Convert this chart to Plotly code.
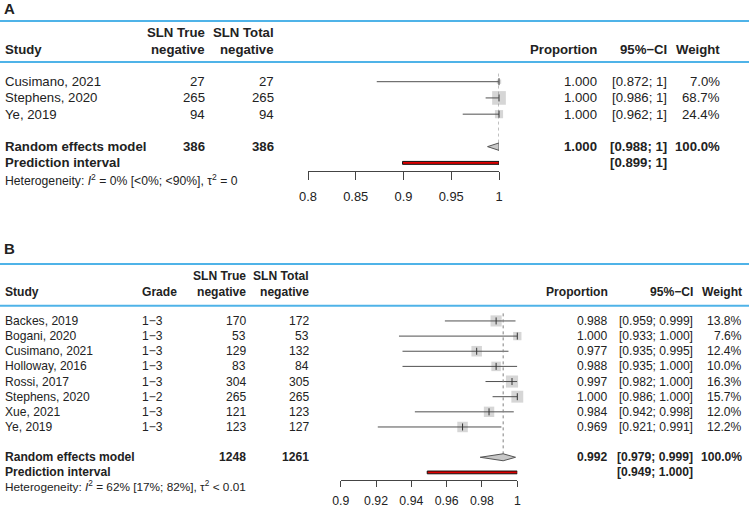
import numpy as np
import plotly.graph_objects as go

W, H = 749, 508
FONT = "Liberation Sans, Arial, sans-serif"
TXT = "#222222"
BLUE = "#4fb3e8"
BOXC = "#c4c4c4"
LINEC = "#505050"

# ---------------- Panel A data ----------------
studies_A = ["Cusimano, 2021", "Stephens, 2020", "Ye, 2019"]
tn_A = [27, 265, 94]
total_A = [27, 265, 94]
prop_A = [1.000, 1.000, 1.000]
lo_A = [0.872, 0.986, 0.962]
hi_A = [1.0, 1.0, 1.0]
w_A = [7.0, 68.7, 24.4]
re_A = {"tn": 386, "total": 386, "est": 1.000, "lo": 0.988, "hi": 1.0, "w": 100.0,
        "pi_lo": 0.899, "pi_hi": 1.0}
het_A = "Heterogeneity: <i>I</i><sup>2</sup> = 0% [&lt;0%; &lt;90%], τ<sup>2</sup> = 0"
ticks_A = [0.8, 0.85, 0.9, 0.95, 1.0]
ticklab_A = ["0.8", "0.85", "0.9", "0.95", "1"]

# ---------------- Panel B data ----------------
studies_B = ["Backes, 2019", "Bogani, 2020", "Cusimano, 2021", "Holloway, 2016",
             "Rossi, 2017", "Stephens, 2020", "Xue, 2021", "Ye, 2019"]
grade_B = ["1−3", "1−3", "1−3", "1−3", "1−3", "1−2", "1−3", "1−3"]
tn_B = [170, 53, 129, 83, 304, 265, 121, 123]
total_B = [172, 53, 132, 84, 305, 265, 123, 127]
prop_B = [0.988, 1.000, 0.977, 0.988, 0.997, 1.000, 0.984, 0.969]
lo_B = [0.959, 0.933, 0.935, 0.935, 0.982, 0.986, 0.942, 0.921]
hi_B = [0.999, 1.000, 0.995, 1.000, 1.000, 1.000, 0.998, 0.991]
w_B = [13.8, 7.6, 12.4, 10.0, 16.3, 15.7, 12.0, 12.2]
re_B = {"tn": 1248, "total": 1261, "est": 0.992, "lo": 0.979, "hi": 0.999, "w": 100.0,
        "pi_lo": 0.949, "pi_hi": 1.000}
het_B = "Heterogeneity: <i>I</i><sup>2</sup> = 62% [17%; 82%], τ<sup>2</sup> &lt; 0.01"
ticks_B = [0.90, 0.92, 0.94, 0.96, 0.98, 1.00]
ticklab_B = ["0.9", "0.92", "0.94", "0.96", "0.98", "1"]


def px(x):
    return x / W


def py(y):
    return 1 - y / H


fig = go.Figure()
annotations = []
shapes = []


def add_text(text, x, y, anchor, size, yref, bold=False):
    if bold:
        text = "<b>" + text + "</b>"
    annotations.append(dict(text=text, x=px(x), y=y, xref="paper", yref=yref,
                            xanchor=anchor, yanchor="middle", showarrow=False,
                            font=dict(family=FONT, size=size, color=TXT)))


def panel(ax, studies, tn, total, prop, lo, hi, w, re, het, cols, fsz, hsz,
          boxk, ci_fmt, grade=None, header_y=(0, 0), lines_y=(0, 0), het_y=0, label=None):
    xa = "x" if ax == 1 else "x2"
    ya = "y" if ax == 1 else "y2"
    n = len(studies)
    rows = list(range(n))
    r_re = n + 1
    r_pi = n + 2
    # boxes
    fig.add_trace(go.Scatter(x=prop, y=rows, mode="markers",
                             marker=dict(symbol="square", color=BOXC,
                                         size=[boxk * np.sqrt(v) for v in w],
                                         line=dict(width=0)),
                             xaxis=xa, yaxis=ya, hoverinfo="skip", showlegend=False,
                             cliponaxis=False))
    # CI lines over boxes
    for i in rows:
        fig.add_trace(go.Scatter(x=[lo[i], hi[i]], y=[i, i], mode="lines",
                                 line=dict(color=LINEC, width=1), xaxis=xa, yaxis=ya,
                                 hoverinfo="skip", showlegend=False, cliponaxis=False))
    # estimate tick marks
    fig.add_trace(go.Scatter(x=prop, y=rows, mode="markers",
                             marker=dict(symbol="line-ns", size=5, color="#333333",
                                         line=dict(color="#333333", width=1)),
                             xaxis=xa, yaxis=ya, hoverinfo="skip", showlegend=False,
                             cliponaxis=False))
    # dotted reference line at pooled estimate
    fig.add_trace(go.Scatter(x=[re["est"], re["est"]], y=[-0.5, r_re + 0.2], mode="lines",
                             line=dict(color="#808080", width=1, dash="dot"),
                             xaxis=xa, yaxis=ya, hoverinfo="skip", showlegend=False,
                             cliponaxis=False))
    # diamond
    hh = 0.23
    fig.add_trace(go.Scatter(x=[re["lo"], re["est"], re["hi"], re["est"], re["lo"]],
                             y=[r_re, r_re - hh, r_re, r_re + hh, r_re],
                             mode="lines", fill="toself", fillcolor="#c8c8c8",
                             line=dict(color="#555555", width=1),
                             xaxis=xa, yaxis=ya, hoverinfo="skip", showlegend=False,
                             cliponaxis=False))
    # prediction interval
    ph = 0.09
    fig.add_trace(go.Scatter(x=[re["pi_lo"], re["pi_hi"], re["pi_hi"], re["pi_lo"], re["pi_lo"]],
                             y=[r_pi - ph, r_pi - ph, r_pi + ph, r_pi + ph, r_pi - ph],
                             mode="lines", fill="toself", fillcolor="#e00000",
                             line=dict(color="#111111", width=1),
                             xaxis=xa, yaxis=ya, hoverinfo="skip", showlegend=False,
                             cliponaxis=False))

    c = cols
    # header
    h1, h2 = header_y
    add_text("Study", c["study"], py(h2), "left", fsz, "paper", True)
    if grade is not None:
        add_text("Grade", c["grade"], py(h2), "left", fsz, "paper", True)
    add_text("SLN True", c["tn"], py(h1), "right", fsz, "paper", True)
    add_text("negative", c["tn"], py(h2), "right", fsz, "paper", True)
    add_text("SLN Total", c["tot"], py(h1), "right", fsz, "paper", True)
    add_text("negative", c["tot"], py(h2), "right", fsz, "paper", True)
    add_text("Proportion", c["prop"], py(h2), "right", fsz, "paper", True)
    add_text("95%−CI", c["ci"], py(h2), "right", fsz, "paper", True)
    add_text("Weight", c["w"], py(h2), "right", fsz, "paper", True)
    # rows
    for i in rows:
        add_text(studies[i], c["study"], i, "left", fsz, ya)
        if grade is not None:
            add_text(grade[i], c["grade"], i, "left", fsz, ya)
        add_text(str(tn[i]), c["tn"], i, "right", fsz, ya)
        add_text(str(total[i]), c["tot"], i, "right", fsz, ya)
        add_text(f"{prop[i]:.3f}", c["prop"], i, "right", fsz, ya)
        add_text(ci_fmt(lo[i], hi[i]), c["ci"], i, "right", fsz, ya)
        add_text(f"{w[i]:.1f}%", c["w"], i, "right", fsz, ya)
    add_text("Random effects model", c["study"], r_re, "left", fsz, ya, True)
    add_text(str(re["tn"]), c["tn"], r_re, "right", fsz, ya, True)
    add_text(str(re["total"]), c["tot"], r_re, "right", fsz, ya, True)
    add_text(f"{re['est']:.3f}", c["prop"], r_re, "right", fsz, ya, True)
    add_text(ci_fmt(re["lo"], re["hi"]), c["ci"], r_re, "right", fsz, ya, True)
    add_text(f"{re['w']:.1f}%", c["w"], r_re, "right", fsz, ya, True)
    add_text("Prediction interval", c["study"], r_pi, "left", fsz, ya, True)
    add_text(ci_fmt(re["pi_lo"], re["pi_hi"]), c["ci"], r_pi, "right", fsz, ya, True)
    add_text(het, c["study"], py(het_y), "left", hsz, "paper")

    # blue rules
    for ly in lines_y:
        shapes.append(dict(type="line", xref="paper", yref="paper", x0=0, x1=1,
                           y0=py(ly), y1=py(ly), line=dict(color=BLUE, width=2)))
    # panel label
    lab, lx, lyy = label
    annotations.append(dict(text="<b>" + lab + "</b>", x=px(lx), y=py(lyy), xref="paper",
                            yref="paper", xanchor="left", yanchor="middle", showarrow=False,
                            font=dict(family=FONT, size=15, color=TXT)))


panel(1, studies_A, tn_A, total_A, prop_A, lo_A, hi_A, w_A, re_A, het_A,
      cols=dict(study=3, tn=207, tot=276, prop=599, ci=669, w=722),
      fsz=13.2, hsz=12.2, boxk=1.65,
      ci_fmt=lambda a, b: f"[{a:.3f}; {b:g}]",
      header_y=(32.7, 49.3), lines_y=(21, 62), het_y=180, label=("A", 2, 8.5))

panel(2, studies_B, tn_B, total_B, prop_B, lo_B, hi_B, w_B, re_B, het_B,
      cols=dict(study=3, grade=140, tn=248, tot=311, prop=610, ci=695, w=744),
      fsz=12.1, hsz=11.8, boxk=3.0,
      ci_fmt=lambda a, b: f"[{a:.3f}; {b:.3f}]", grade=grade_B,
      header_y=(276, 291.7), lines_y=(264, 305.7), het_y=486.7, label=("B", 2, 248))

axis_common = dict(showgrid=False, zeroline=False, showline=True, linecolor="#444444",
                   linewidth=1, ticks="outside", tickcolor="#444444", tickwidth=1,
                   fixedrange=True, automargin=False)

fig.update_layout(
    width=W, height=H, autosize=False,
    margin=dict(l=0, r=0, t=0, b=0, pad=0, autoexpand=False),
    paper_bgcolor="white", plot_bgcolor="rgba(0,0,0,0)",
    showlegend=False,
    xaxis=dict(domain=[px(308), px(499)], range=[0.8, 1.0], anchor="y",
               tickvals=ticks_A, ticktext=ticklab_A, ticklen=8, ticklabelstandoff=6,
               tickfont=dict(family=FONT, color=TXT, size=12.9), **axis_common),
    yaxis=dict(domain=[py(171), py(65.45)], range=[5.5, -1], visible=False,
               fixedrange=True, anchor="x"),
    xaxis2=dict(domain=[px(340.7), px(517.3)], range=[0.9, 1.0], anchor="y2",
                tickvals=ticks_B, ticktext=ticklab_B, ticklen=6, ticklabelstandoff=3,
                tickfont=dict(family=FONT, color=TXT, size=12.3), **axis_common),
    yaxis2=dict(domain=[py(480), py(305.8)], range=[10.5, -1], visible=False,
                fixedrange=True, anchor="x2"),
    annotations=annotations,
    shapes=shapes,
)

fig.write_html("out.html", config={"displayModeBar": False},
               post_script="document.body.style.margin='0';document.body.style.overflow='hidden';")
